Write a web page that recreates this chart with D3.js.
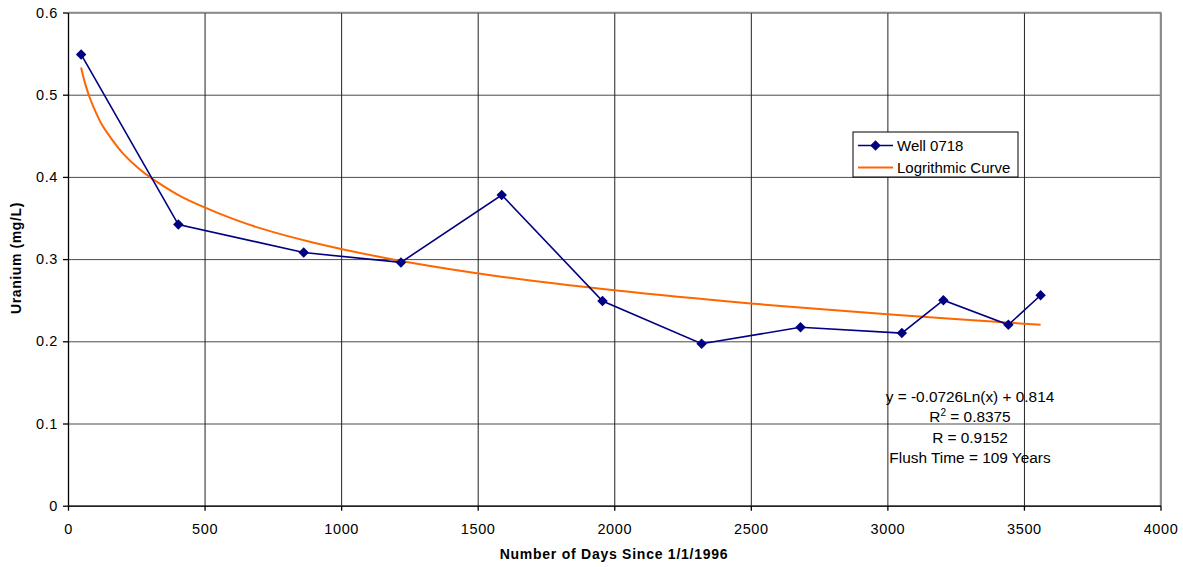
<!DOCTYPE html>
<html>
<head>
<meta charset="utf-8">
<script src="https://cdn.jsdelivr.net/npm/d3@7"></script>
<style>
  body { margin: 0; background: #fff; }
  svg text { font-family: "Liberation Sans", Arial, sans-serif; }
</style>
</head>
<body>
<div id="chart"></div>
<script>
// well samples (days since 1/1/1996, mg/L)
const days = [48, 404, 863, 1219, 1588, 1957, 2320, 2682, 3053, 3205, 3443, 3561];
const uranium = [0.549, 0.342, 0.308, 0.296, 0.378, 0.249, 0.197, 0.217, 0.210, 0.250, 0.220, 0.256];

// trend curve
const curveDays = [48, 55, 65, 80, 100, 125, 160, 200, 260, 330, 420, 550, 700, 900, 1200, 1600, 2000, 2500, 3000, 3561];
const curveValues = [0.533, 0.523, 0.511, 0.496, 0.480, 0.463, 0.446, 0.429, 0.410, 0.393, 0.375, 0.356, 0.338, 0.320, 0.299, 0.278, 0.262, 0.246, 0.233, 0.220];

const xTicks = [0, 500, 1000, 1500, 2000, 2500, 3000, 3500, 4000];
const yTicks = [0, 0.1, 0.2, 0.3, 0.4, 0.5, 0.6];

const legendLabels = ["Well 0718", "Logrithmic Curve"];
const noteLines = ["y = -0.0726Ln(x) + 0.814", "R2 = 0.8375", "R = 0.9152", "Flush Time = 109 Years"];

const W = 1183, H = 567;
const margin = {left: 68, top: 12.5, right: 22.5, bottom: 61.3};
const width = W - margin.left - margin.right,
      height = H - margin.top - margin.bottom;

const svg = d3.select("#chart").append("svg")
  .attr("width", W)
  .attr("height", H);

const g = svg.append("g")
  .attr("transform", `translate(${margin.left},${margin.top})`);

let x = d3.scaleLinear().domain([0, 4000]).range([0, width]);
let y = d3.scaleLinear().domain([0, 0.6]).range([height, 0]);

// gridlines
g.append("g")
  .attr("class", "grid-y")
  .call(d3.axisLeft(y).tickValues(yTicks).tickSize(-width).tickFormat(""))
  .call(s => s.select(".domain").remove())
  .selectAll("line").attr("stroke", "#4a4a4a");

g.append("g")
  .attr("class", "grid-x")
  .attr("transform", `translate(0,${height})`)
  .call(d3.axisBottom(x).tickValues(xTicks).tickSize(-height).tickFormat(""))
  .call(s => s.select(".domain").remove())
  .selectAll("line").attr("stroke", "#222");

// plot border (top/right grey)
g.append("path")
  .attr("d", `M0,0H${width}V${height}`)
  .attr("fill", "none")
  .attr("stroke", "#8a8a8a")
  .attr("stroke-width", 1.5);

// axes
let xAxis = g.append("g")
  .attr("transform", `translate(0,${height})`)
  .call(d3.axisBottom(x).tickValues(xTicks).tickSize(5).tickSizeOuter(0).tickPadding(13).tickFormat(d3.format("d")));

let yAxis = g.append("g")
  .call(d3.axisLeft(y).tickValues(yTicks).tickSize(5).tickSizeOuter(0).tickPadding(5).tickFormat(d => d === 0 ? "0" : d3.format(".1f")(d)));

[xAxis, yAxis].forEach(a => {
  a.selectAll("path, line").attr("stroke", "#000").attr("stroke-width", 1.3);
  a.selectAll("text").attr("fill", "#000")
    .style("font-size", "14.5px")
    .style("letter-spacing", "0.6px");
});

// trend curve
const curveLine = d3.line()
  .x((d, i) => x(curveDays[i]))
  .y(d => y(d))
  .curve(d3.curveCatmullRom.alpha(0.5));

g.append("path")
  .datum(curveValues)
  .attr("d", curveLine)
  .attr("fill", "none")
  .attr("stroke", "#ff6600")
  .attr("stroke-width", 2);

// well series
const wellLine = d3.line()
  .x((d, i) => x(days[i]))
  .y(d => y(d));

g.append("path")
  .datum(uranium)
  .attr("d", wellLine)
  .attr("fill", "none")
  .attr("stroke", "#000080")
  .attr("stroke-width", 1.6);

const diamond = d3.symbol().type(d3.symbolDiamond2).size(70);

g.selectAll(".pt")
  .data(uranium)
  .enter()
  .append("path")
  .attr("class", "pt")
  .attr("d", diamond)
  .attr("transform", (d, i) => `translate(${x(days[i])},${y(d)})`)
  .attr("fill", "#000080");

// axis titles
svg.append("text")
  .attr("x", 614)
  .attr("y", 559)
  .attr("text-anchor", "middle")
  .style("font-size", "14px")
  .style("font-weight", "bold")
  .style("letter-spacing", "0.75px")
  .text("Number of Days Since 1/1/1996");

svg.append("text")
  .attr("transform", "translate(21,258) rotate(-90)")
  .attr("text-anchor", "middle")
  .style("font-size", "14px")
  .style("font-weight", "bold")
  .style("letter-spacing", "0.6px")
  .text("Uranium (mg/L)");

// legend
const legend = svg.append("g").attr("transform", "translate(853,132)");
legend.append("rect")
  .attr("width", 165).attr("height", 45)
  .attr("fill", "#fff").attr("stroke", "#000").attr("stroke-width", 1);

legendLabels.forEach((label, i) => {
  let ly = 13.5 + i * 22;
  legend.append("line")
    .attr("x1", 5).attr("x2", 40).attr("y1", ly).attr("y2", ly)
    .attr("stroke", i === 0 ? "#000080" : "#ff6600")
    .attr("stroke-width", i === 0 ? 1.6 : 2);
  if (i === 0) {
    legend.append("path").attr("d", diamond)
      .attr("transform", `translate(22.5,${ly})`).attr("fill", "#000080");
  }
  legend.append("text")
    .attr("x", 44).attr("y", ly + 5)
    .style("font-size", "15px")
    .text(label);
});

// fit note
const note = svg.append("text")
  .attr("text-anchor", "middle")
  .style("font-size", "15.4px");

noteLines.forEach((line, i) => {
  let t = note.append("tspan").attr("x", 970).attr("y", 401.5 + i * 20.5);
  if (line.startsWith("R2")) {
    t.text("R");
    t.append("tspan").attr("dy", -6).style("font-size", "10px").text("2");
    t.append("tspan").attr("dy", 6).text(line.slice(2));
  } else {
    t.text(line);
  }
});
</script>
</body>
</html>
